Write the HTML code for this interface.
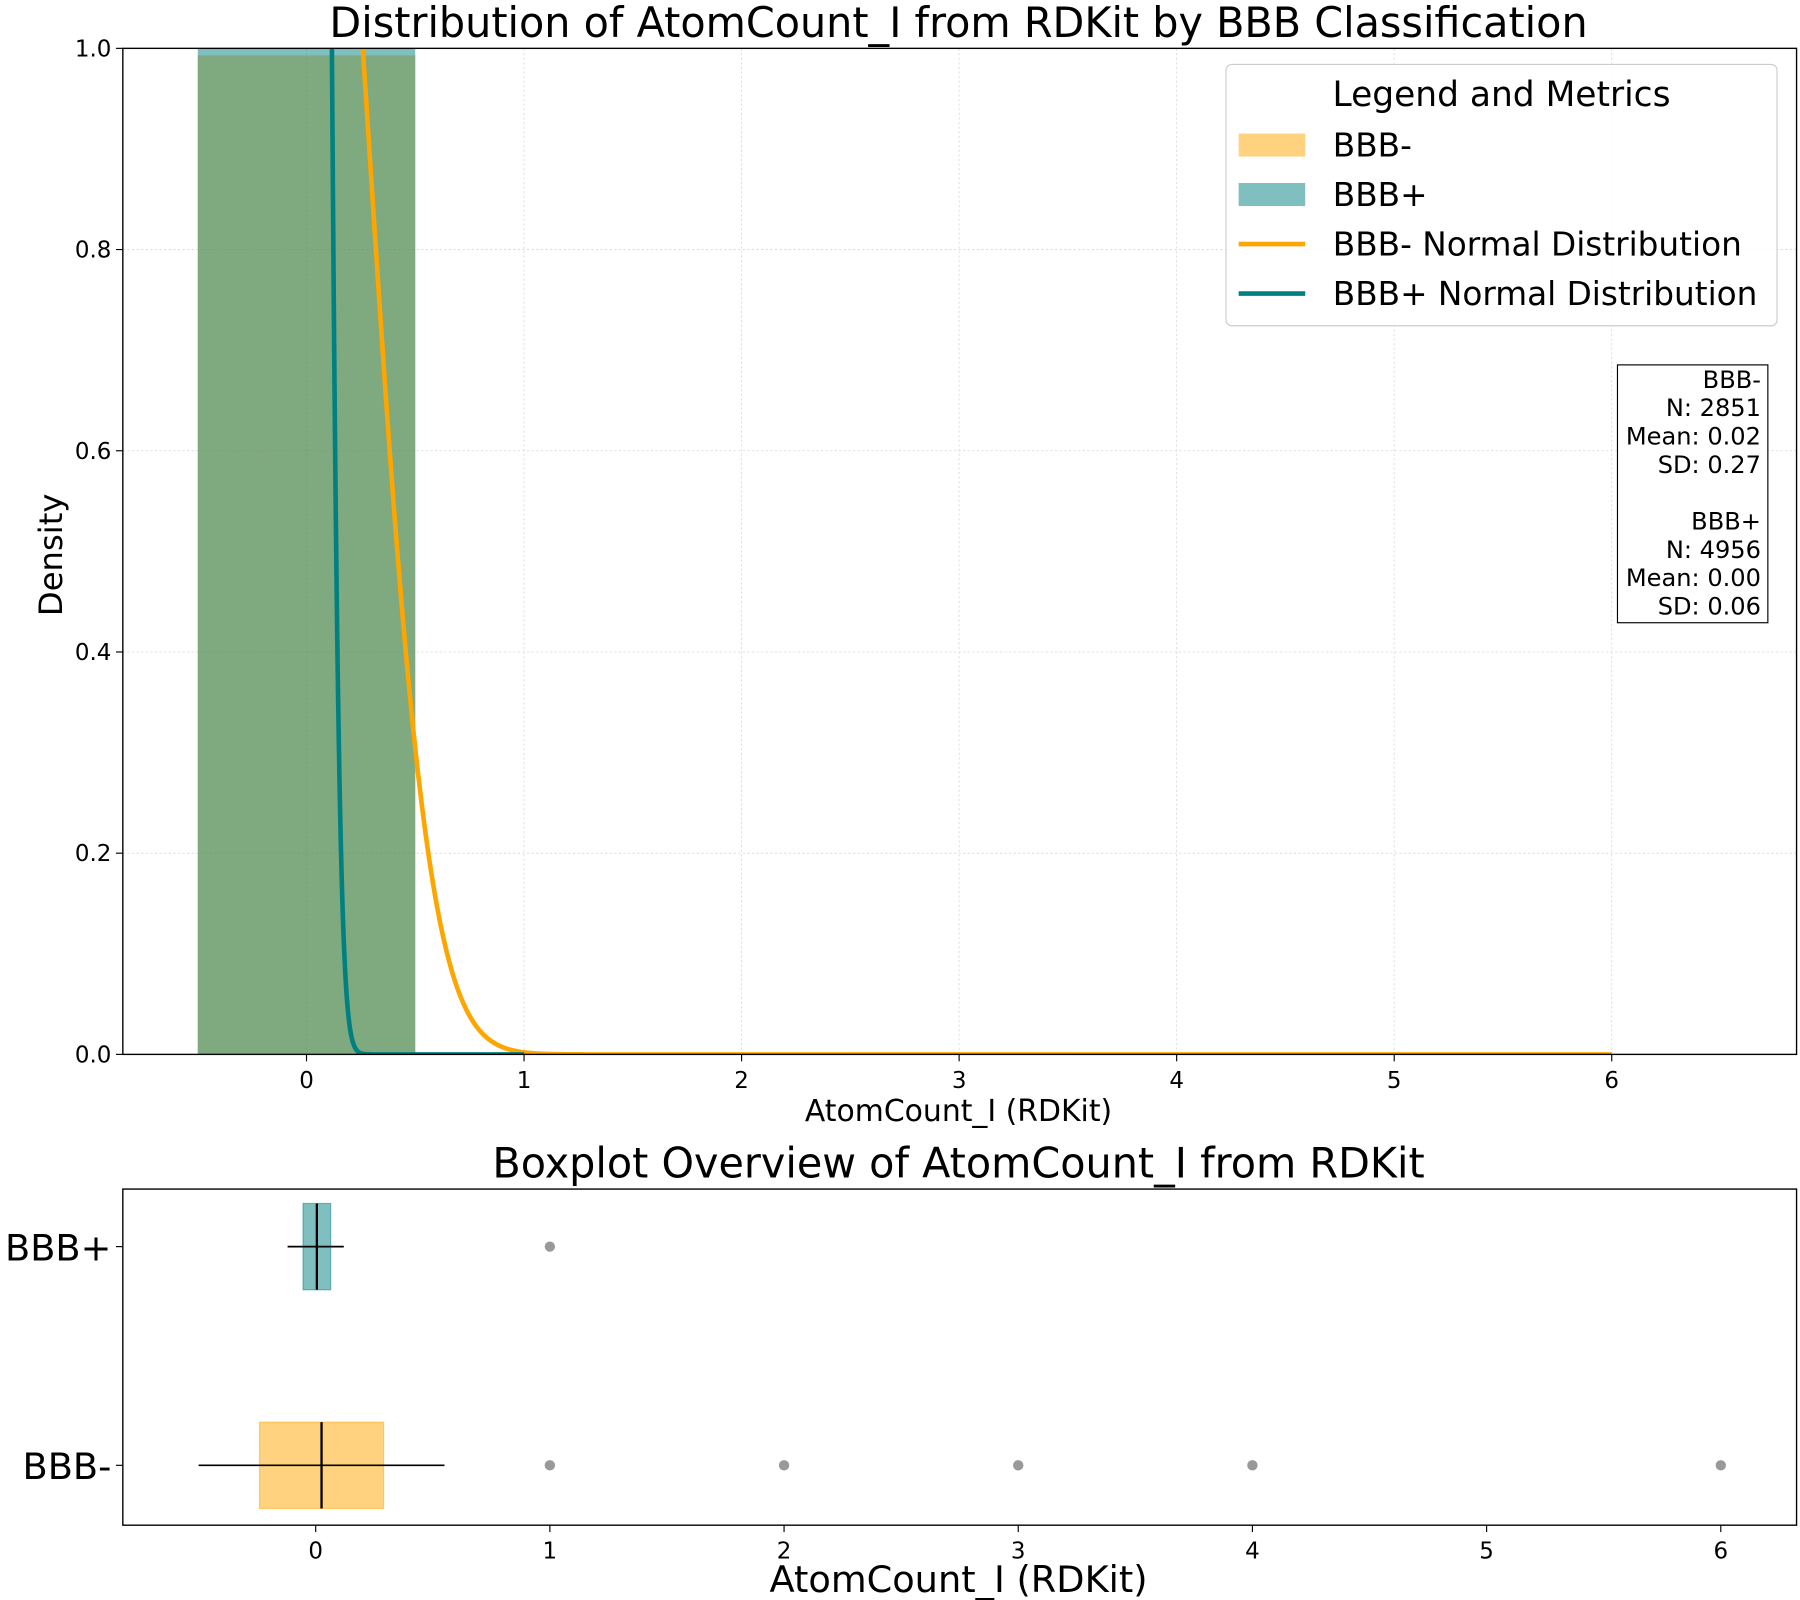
<!DOCTYPE html>
<html><head><meta charset="utf-8"><style>
html,body{margin:0;padding:0;background:#fff;}
svg{display:block;font-family:"DejaVu Sans","Liberation Sans",sans-serif;}
</style></head><body>
<svg id="chart" width="1800" height="1600" viewBox="0 0 1568 1390" preserveAspectRatio="none" xmlns="http://www.w3.org/2000/svg">
<defs><clipPath id="c1"><rect x="107" y="42" width="1458" height="874"/></clipPath></defs>
<g id="topPanel"></g>
<g id="botPanel"></g>
</svg>
<script>
const histBins=[0,1,2,3,4,5,6];
const histNeg=[0.993,0.0015,0.0007,0.002,0.0004,0,0.0004];
const histPos=[0.9996,0.0004,0,0,0,0,0];
const negMean=0.02, negSD=0.27, posMean=0.00, posSD=0.06;
const negRange=[0,6], posRange=[0,1];
const xTicks=[0,1,2,3,4,5,6];
const yTicks=[0,0.2,0.4,0.6,0.8,1.0];
const boxCats=['BBB+','BBB-'];
const boxQ1=[-0.054,-0.24], boxQ3=[0.064,0.29], boxMed=[0.005,0.025];
const boxWlo=[-0.12,-0.5], boxWhi=[0.12,0.55];
const outPos=[1], outNeg=[1,2,3,4,6];

const NS='http://www.w3.org/2000/svg';
function mk(p,t,a,txt){const e=document.createElementNS(NS,t);for(const k in a)e.setAttribute(k,a[k]);if(txt!==undefined)e.textContent=txt;p.appendChild(e);return e;}
const topG=document.getElementById('topPanel'), botG=document.getElementById('botPanel');
const X=v=>267+v*189.5, Y=v=>916-v*874;
xTicks.forEach(t=>{const l=mk(topG,'line',{x1:X(t),x2:X(t),y1:42,y2:916,stroke:'#d8d8d8','stroke-dasharray':'2,2','stroke-width':0.7});});
yTicks.forEach(t=>{const l=mk(topG,'line',{x1:107,x2:1565,y1:Y(t),y2:Y(t),stroke:'#d8d8d8','stroke-dasharray':'2,2','stroke-width':0.7});});
const cg=mk(topG,'g',{'clip-path':'url(#c1)'});
histBins.forEach((b,i)=>{
 if(histNeg[i]>0){const r=mk(cg,'rect',{x:X(b-0.5),width:X(b+0.5)-X(b-0.5),y:Y(histNeg[i]),height:Y(0)-Y(histNeg[i]),fill:'#ffa500','fill-opacity':0.5});}
 if(histPos[i]>0){const r=mk(cg,'rect',{x:X(b-0.5),width:X(b+0.5)-X(b-0.5),y:Y(histPos[i]),height:Y(0)-Y(histPos[i]),fill:'#008080','fill-opacity':0.5});}
});
function pdf(x,m,s){return Math.exp(-0.5*((x-m)/s)**2)/(s*Math.sqrt(2*Math.PI));}
function curve(m,s,rg,col,name){let d='';for(let i=0;i<=1500;i++){const x=rg[0]+(rg[1]-rg[0])*i/1500;const y=Math.min(pdf(x,m,s),1.2);d+=(i?'L':'M')+X(x).toFixed(2)+','+Y(y).toFixed(2);}const p=mk(cg,'path',{d:d,fill:'none',stroke:col,'stroke-width':4});}
curve(negMean,negSD,negRange,'#ffa500','bbb-neg-normal-curve');
curve(posMean,posSD,posRange,'#008080','bbb-pos-normal-curve');
mk(topG,'rect',{x:107,y:42,width:1458,height:874,fill:'none',stroke:'#000','stroke-width':1.2});
xTicks.forEach(t=>{mk(topG,'line',{x1:X(t),x2:X(t),y1:916,y2:922,stroke:'#000'});const e=mk(topG,'text',{x:X(t),y:945,'font-size':20,'text-anchor':'middle'},t);});
yTicks.forEach(t=>{mk(topG,'line',{x1:101,x2:107,y1:Y(t),y2:Y(t),stroke:'#000'});const e=mk(topG,'text',{x:97,y:Y(t)+7,'font-size':20,'text-anchor':'end'},t.toFixed(1));});
let e=mk(topG,'text',{x:835,y:32,'font-size':36,'text-anchor':'middle'},'Distribution of AtomCount_I from RDKit by BBB Classification');
e=mk(topG,'text',{x:835,y:974,'font-size':26,'text-anchor':'middle'},'AtomCount_I (RDKit)');
e=mk(topG,'text',{x:54,y:482,'font-size':28,'text-anchor':'middle',transform:'rotate(-90 54 482)'},'Density');
const lg=mk(topG,'g',{});
mk(lg,'rect',{x:1068,y:56,width:480,height:227,rx:5,fill:'#fff','fill-opacity':0.85,stroke:'#ccc'});
mk(lg,'text',{x:1308,y:92,'font-size':30,'text-anchor':'middle'},'Legend and Metrics');
[['rect','#ffa500','BBB-',126],['rect','#008080','BBB+',169],['line','#ffa500','BBB- Normal Distribution',212],['line','#008080','BBB+ Normal Distribution',255]].forEach(a=>{
 const g=mk(lg,'g',{});
 if(a[0]=='rect')mk(g,'rect',{x:1079,y:a[3]-10,width:58,height:20,fill:a[1],'fill-opacity':0.5});
 else mk(g,'line',{x1:1079,x2:1137,y1:a[3],y2:a[3],stroke:a[1],'stroke-width':4});
 mk(g,'text',{x:1161,y:a[3]+10,'font-size':28.5},a[2]);
});
const sg=mk(topG,'g',{});
mk(sg,'rect',{x:1409,y:317,width:131,height:224,fill:'#fff',stroke:'#000'});
['BBB-','N: 2851','Mean: 0.02','SD: 0.27','','BBB+','N: 4956','Mean: 0.00','SD: 0.06'].forEach((s,i)=>mk(sg,'text',{x:1534,y:337+i*24.6,'font-size':21,'text-anchor':'end'},s));
const BX=v=>275+v*204, BY=[1083,1273], cols=['#008080','#ffa500'];
boxCats.forEach((c,i)=>{
 const g=mk(botG,'g',{});
 mk(g,'rect',{x:BX(boxQ1[i]),width:BX(boxQ3[i])-BX(boxQ1[i]),y:BY[i]-37.5,height:75,fill:cols[i],'fill-opacity':0.5,stroke:cols[i],'stroke-opacity':0.5});
 mk(g,'line',{x1:BX(boxWlo[i]),x2:BX(boxWhi[i]),y1:BY[i],y2:BY[i],stroke:'#000','stroke-width':1.5});
 mk(g,'line',{x1:BX(boxMed[i]),x2:BX(boxMed[i]),y1:BY[i]-37.5,y2:BY[i]+37.5,stroke:'#000','stroke-width':2});
 (i?outNeg:outPos).forEach(o=>{const d=mk(g,'circle',{cx:BX(o),cy:BY[i],r:4.5,fill:'#808080','fill-opacity':0.8});});
 const t=mk(botG,'text',{x:97,y:BY[i]+12,'font-size':32,'text-anchor':'end'},c);
 mk(botG,'line',{x1:101,x2:107,y1:BY[i],y2:BY[i],stroke:'#000'});
});
mk(botG,'rect',{x:107,y:1033,width:1458,height:292,fill:'none',stroke:'#000','stroke-width':1.2});
xTicks.forEach(t=>{mk(botG,'line',{x1:BX(t),x2:BX(t),y1:1325,y2:1331,stroke:'#000'});const q=mk(botG,'text',{x:BX(t),y:1354,'font-size':20,'text-anchor':'middle'},t);});
e=mk(botG,'text',{x:835,y:1023,'font-size':36,'text-anchor':'middle'},'Boxplot Overview of AtomCount_I from RDKit');
e=mk(botG,'text',{x:835,y:1383,'font-size':32,'text-anchor':'middle'},'AtomCount_I (RDKit)');
</script>
</body></html>
